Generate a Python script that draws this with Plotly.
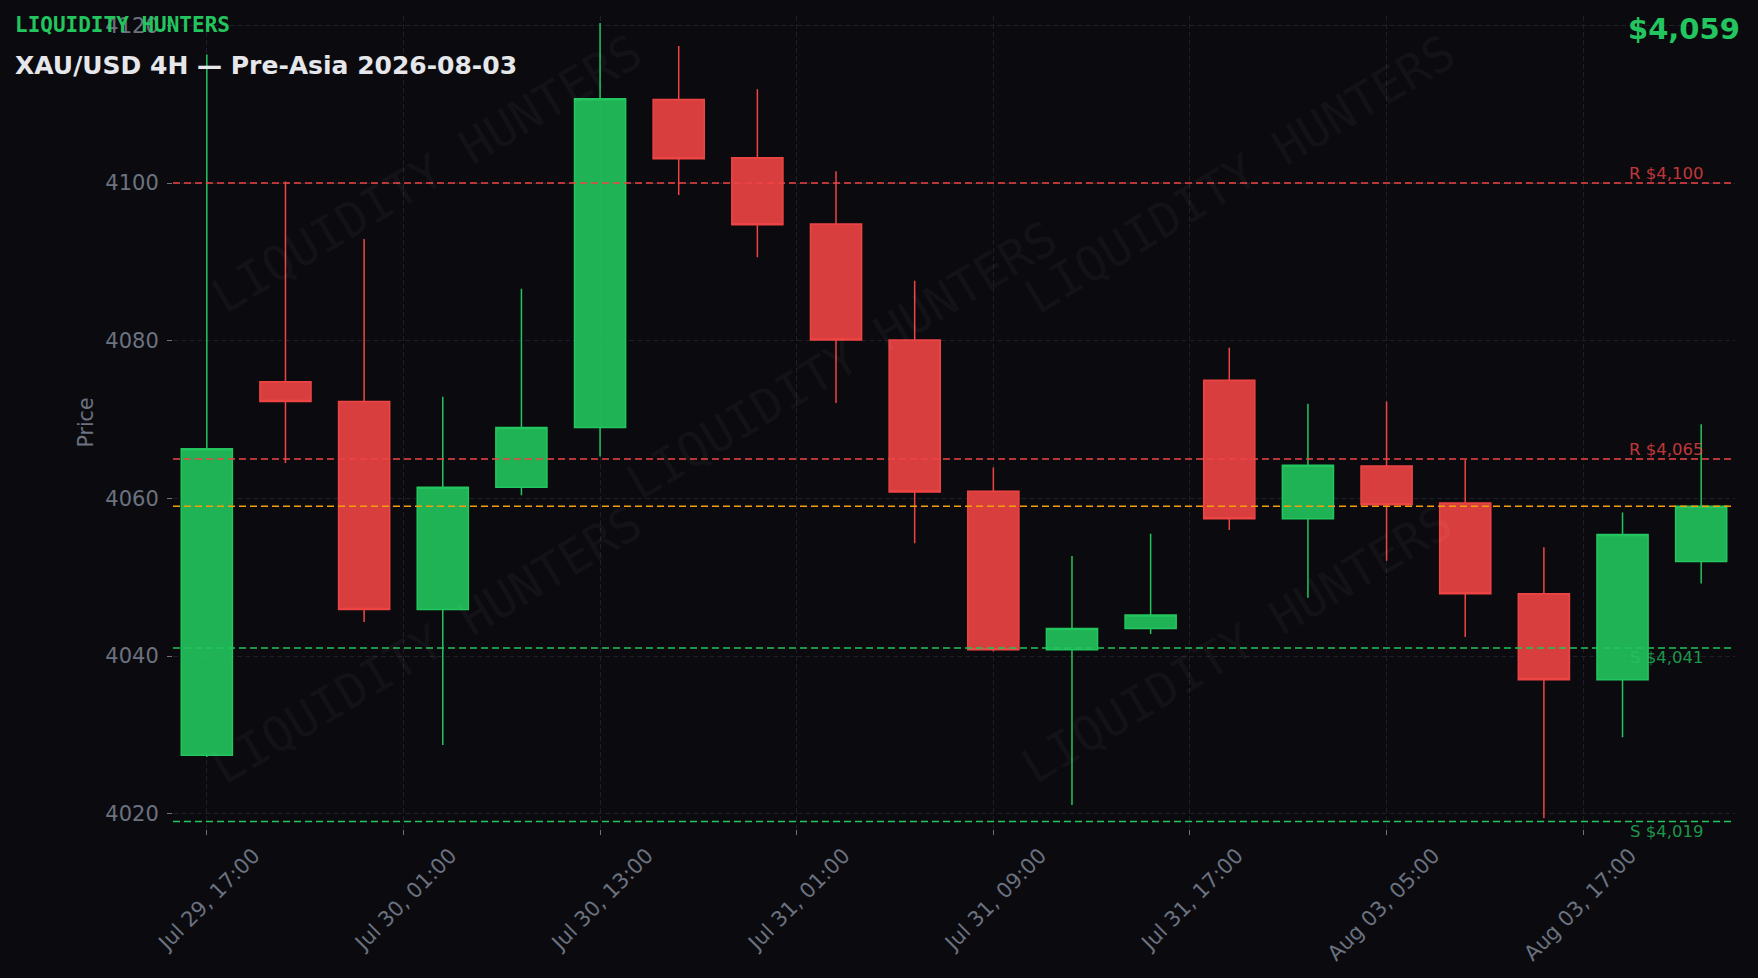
import plotly.graph_objects as go

# ---- data ----
opens  = [4027.4, 4074.8, 4072.3, 4045.9, 4061.4, 4069.0, 4110.6, 4103.2, 4094.8, 4080.1,
          4060.9, 4040.8, 4043.5, 4075.0, 4057.4, 4064.1, 4059.4, 4047.9, 4037.0, 4052.0]
highs  = [4116.3, 4100.2, 4092.9, 4072.9, 4086.6, 4120.3, 4117.4, 4111.9, 4101.5, 4087.6,
          4063.9, 4052.7, 4055.5, 4079.1, 4072.0, 4072.3, 4064.9, 4053.8, 4058.2, 4069.4]
lows   = [4027.2, 4064.5, 4044.3, 4028.7, 4060.4, 4065.3, 4098.5, 4090.6, 4072.1, 4054.3,
          4040.6, 4021.1, 4042.8, 4056.0, 4047.4, 4052.1, 4042.4, 4019.4, 4029.7, 4049.2]
closes = [4066.3, 4072.3, 4045.9, 4061.4, 4069.0, 4110.7, 4103.1, 4094.7, 4080.1, 4060.8,
          4040.8, 4043.5, 4045.2, 4057.4, 4064.2, 4059.2, 4047.9, 4037.0, 4055.4, 4059.0]
candle_index = list(range(len(opens)))

tick_labels = ["Jul 29, 17:00", "Jul 30, 01:00", "Jul 30, 13:00", "Jul 31, 01:00",
               "Jul 31, 09:00", "Jul 31, 17:00", "Aug 03, 05:00", "Aug 03, 17:00"]
tick_step = 2.5  # candles between labelled ticks

resistance_levels = [4100, 4065]
support_levels = [4041, 4019]
current_price = 4059

title_text = "XAU/USD 4H — Pre-Asia 2026-08-03"
brand_text = "LIQUIDITY HUNTERS"

# ---- style ----
BG = "#0b0b0f"
GREEN = "#22c55e"
RED = "#ef4444"
ORANGE = "#f59e0b"
GRID = "#1f1f29"
TICK = "#6b7280"

W, H = 1758, 978
ml, mr, mt, mb = 173, 23, 16, 147
pw, ph = W - ml - mr, H - mt - mb


def px_to_paper(xp, yp):
    return (xp - ml) / pw, 1 - (yp - mt) / ph


fig = go.Figure()
fig.add_trace(go.Candlestick(
    x=candle_index, open=opens, high=highs, low=lows, close=closes,
    increasing=dict(line=dict(color=GREEN, width=1.5), fillcolor="rgba(34,197,94,0.9)"),
    decreasing=dict(line=dict(color=RED, width=1.5), fillcolor="rgba(239,68,68,0.9)"),
    showlegend=False,
))

for lvl in resistance_levels:
    fig.add_hline(y=lvl, line=dict(color=RED, width=1.5, dash="7px,4px"))
    fig.add_annotation(x=1, xref="paper", y=lvl, yref="y", text=f"R ${lvl:,}",
                       showarrow=False, xanchor="right", yanchor="bottom", xshift=-30, yshift=-2,
                       font=dict(family="DejaVu Sans", size=16.5, color="rgba(239,68,68,0.8)"))
for lvl in support_levels:
    fig.add_hline(y=lvl, line=dict(color=GREEN, width=1.5, dash="7px,4px"))
    fig.add_annotation(x=1, xref="paper", y=lvl, yref="y", text=f"S ${lvl:,}",
                       showarrow=False, xanchor="right", yanchor="top", xshift=-30, yshift=2,
                       font=dict(family="DejaVu Sans", size=16.5, color="rgba(34,197,94,0.75)"))
fig.add_hline(y=current_price, line=dict(color=ORANGE, width=1.5, dash="7px,4px"))

# watermark
for (wx, wy) in [(0.162, 0.806), (0.428, 0.577), (0.683, 0.806), (0.162, 0.226), (0.681, 0.228)]:
    fig.add_annotation(x=wx, y=wy, xref="paper", yref="paper", text=brand_text, showarrow=False,
                       textangle=-31, xanchor="center", yanchor="middle",
                       font=dict(family="DejaVu Sans Mono", size=48, color="rgba(255,255,255,0.035)"))

# header texts
bx, by = px_to_paper(13, 25)
fig.add_annotation(x=bx, y=by, xref="paper", yref="paper", text=f"<b>{brand_text}</b>", showarrow=False,
                   xanchor="left", yanchor="middle",
                   font=dict(family="DejaVu Sans Mono", size=21, color=GREEN))
tx, ty = px_to_paper(13, 66)
fig.add_annotation(x=tx, y=ty, xref="paper", yref="paper", text=f"<b>{title_text}</b>", showarrow=False,
                   xanchor="left", yanchor="middle",
                   font=dict(family="DejaVu Sans", size=25, color="#e5e7eb"))
px_, py_ = px_to_paper(1742, 29)
fig.add_annotation(x=px_, y=py_, xref="paper", yref="paper", text=f"<b>${current_price:,}</b>", showarrow=False,
                   xanchor="right", yanchor="middle",
                   font=dict(family="DejaVu Sans", size=29, color=GREEN))

fig.update_layout(
    width=W, height=H,
    margin=dict(l=ml, r=mr, t=mt, b=mb),
    paper_bgcolor=BG, plot_bgcolor=BG,
    font=dict(family="DejaVu Sans", color=TICK),
    showlegend=False,
    boxgap=0.35, boxgroupgap=0,
)
fig.update_xaxes(
    range=[-0.43, 19.43],
    tickvals=[i * tick_step for i in range(len(tick_labels))], ticktext=tick_labels,
    tickangle=-45, tickfont=dict(size=21, color=TICK), ticklabelshift=47,
    showgrid=True, gridcolor=GRID, griddash="5px,3px", gridwidth=1,
    ticks="outside", ticklen=5, tickcolor=TICK,
    zeroline=False, showline=False,
    rangeslider=dict(visible=False),
)
fig.update_yaxes(
    range=[4018.05, 4121.2],
    tickvals=[4020, 4040, 4060, 4080, 4100, 4120],
    tickfont=dict(size=21, color=TICK), ticklabelstandoff=4,
    title=dict(text="Price", font=dict(size=20.5, color=TICK), standoff=6),
    showgrid=True, gridcolor=GRID, griddash="5px,3px", gridwidth=1,
    ticks="outside", ticklen=5, tickcolor=TICK,
    zeroline=False, showline=False,
)

fig.write_html("out.html", config={"displayModeBar": False},
               post_script="document.body.style.margin='0';document.body.style.background='#0b0b0f';")
